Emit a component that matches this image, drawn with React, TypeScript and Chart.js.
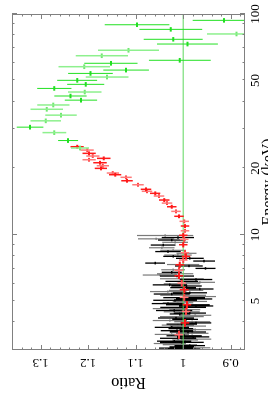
import React, { useEffect, useRef } from 'react';
import { Chart, registerables } from 'chart.js';

Chart.register(...registerables);

// ---- axes ----
const energyMin = 3;
const energyMax = 100;
const ratioMin = 0.87;
const ratioMax = 1.36;
const unityRatio = 1;
const energyTicks = [5, 10, 20, 50, 100];
const energyTickLabels = ['5', '10', '20', '50', '100'];
const energyMajorMarks = [10, 100];
const energyMinorMarks = [3, 4, 5, 6, 7, 8, 9, 20, 30, 40, 50, 60, 70, 80, 90];
const ratioTicks = [0.9, 1, 1.1, 1.2, 1.3];
const ratioTickLabels = ['0.9', '1', '1.1', '1.2', '1.3'];

// ---- black series ----
const blackEnergy = [9.70, 9.45, 8.97, 8.38, 7.97, 7.81, 7.59, 7.43, 7.21, 7.03, 6.75, 6.49, 6.26, 6.14, 5.92, 5.85, 5.75, 5.67, 5.45, 5.38, 5.18, 5.11, 5.04, 4.87, 4.81, 4.75, 4.68, 4.53, 4.41, 4.37, 4.19, 4.13, 3.98, 3.93, 3.80, 3.75, 3.67, 3.62, 3.48, 3.44, 3.39, 3.29, 3.25, 3.14, 3.10, 3.06, 3.03];
const blackEnergyErr = [0.13, 0.12, 0.12, 0.11, 0.10, 0.10, 0.10, 0.10, 0.09, 0.09, 0.09, 0.08, 0.08, 0.08, 0.08, 0.08, 0.07, 0.07, 0.07, 0.07, 0.07, 0.07, 0.07, 0.06, 0.06, 0.06, 0.06, 0.06, 0.06, 0.06, 0.05, 0.05, 0.05, 0.05, 0.05, 0.05, 0.05, 0.05, 0.05, 0.04, 0.04, 0.04, 0.04, 0.04, 0.04, 0.04, 0.04];
const blackRatio = [1.011, 1.024, 1.042, 1.032, 1.021, 0.986, 0.956, 1.059, 0.988, 0.953, 1.024, 1.013, 0.973, 1.003, 1.028, 0.993, 1.000, 0.965, 0.986, 1.024, 0.998, 0.977, 1.017, 1.032, 0.990, 0.973, 1.000, 1.019, 0.986, 1.007, 1.015, 0.996, 0.973, 1.003, 1.024, 1.005, 1.013, 0.990, 0.998, 0.979, 1.011, 1.019, 1.003, 0.986, 1.003, 1.015, 0.998];
const blackRatioErr = [0.034, 0.029, 0.026, 0.027, 0.021, 0.029, 0.023, 0.021, 0.029, 0.021, 0.021, 0.036, 0.034, 0.034, 0.036, 0.032, 0.027, 0.029, 0.036, 0.038, 0.044, 0.038, 0.046, 0.034, 0.046, 0.036, 0.048, 0.038, 0.034, 0.021, 0.038, 0.027, 0.032, 0.032, 0.036, 0.026, 0.034, 0.038, 0.037, 0.034, 0.038, 0.036, 0.046, 0.032, 0.026, 0.036, 0.034];

// ---- grey series ----
const greyEnergy = [9.91, 9.57, 9.23, 8.72, 8.49, 8.23, 8.08, 7.32, 6.93, 6.65, 6.56, 6.31, 6.08, 5.99, 5.59, 5.52, 5.31, 5.24, 4.98, 4.91, 4.62, 4.57, 4.47, 4.31, 4.25, 4.08, 4.03, 3.89, 3.85, 3.71, 3.57, 3.53, 3.36, 3.33, 3.21, 3.17, 3.07];
const greyEnergyErr = [0.13, 0.12, 0.12, 0.11, 0.11, 0.10, 0.10, 0.09, 0.09, 0.08, 0.08, 0.08, 0.08, 0.08, 0.07, 0.07, 0.07, 0.07, 0.06, 0.06, 0.06, 0.06, 0.06, 0.05, 0.05, 0.05, 0.05, 0.05, 0.05, 0.05, 0.05, 0.05, 0.04, 0.04, 0.04, 0.04, 0.04];
const greyRatio = [1.038, 1.057, 1.017, 1.045, 1.021, 0.993, 1.011, 1.000, 1.021, 1.017, 1.049, 1.003, 0.965, 1.003, 0.994, 1.032, 1.000, 0.965, 0.986, 1.011, 1.028, 0.996, 1.003, 0.975, 1.003, 1.028, 0.981, 1.011, 0.990, 0.975, 0.981, 1.024, 0.973, 0.996, 1.028, 1.007, 0.975];
const greyRatioErr = [0.059, 0.038, 0.027, 0.027, 0.027, 0.021, 0.029, 0.034, 0.025, 0.038, 0.036, 0.046, 0.032, 0.038, 0.036, 0.038, 0.048, 0.034, 0.036, 0.032, 0.036, 0.032, 0.038, 0.034, 0.046, 0.036, 0.038, 0.034, 0.038, 0.034, 0.034, 0.036, 0.032, 0.027, 0.034, 0.036, 0.032];

// ---- red series ----
const redEnergy = [25.03, 23.36, 22.17, 21.18, 19.97, 18.69, 17.55, 16.05, 15.39, 14.35, 13.38, 12.11, 10.94, 9.93, 9.00, 7.97, 7.30, 6.51, 5.63, 4.81, 3.98];
const redEnergyErr = [0.50, 0.47, 0.44, 0.42, 0.40, 0.37, 0.35, 0.32, 0.31, 0.29, 0.27, 0.24, 0.22, 0.26, 0.25, 0.25, 0.24, 0.22, 0.20, 0.19, 0.16];
const redRatio = [1.223, 1.198, 1.167, 1.175, 1.173, 1.143, 1.118, 1.078, 1.059, 1.040, 1.024, 1.009, 0.996, 1.000, 1.000, 0.994, 1.007, 1.009, 0.998, 0.992, 0.996];
const redRatioErr = [0.014, 0.014, 0.014, 0.014, 0.013, 0.013, 0.012, 0.011, 0.011, 0.011, 0.010, 0.010, 0.009, 0.009, 0.009, 0.009, 0.009, 0.009, 0.009, 0.009, 0.009];

// ---- pink series ----
const pinkEnergy = [24.17, 22.71, 21.85, 20.52, 19.02, 18.19, 16.83, 15.72, 14.96, 13.90, 12.75, 11.49, 10.41, 9.52, 8.28, 7.67, 6.89, 6.03, 5.20, 4.49, 3.52];
const pinkEnergyErr = [0.48, 0.45, 0.44, 0.41, 0.38, 0.36, 0.34, 0.31, 0.30, 0.28, 0.26, 0.23, 0.21, 0.25, 0.23, 0.23, 0.23, 0.21, 0.19, 0.17, 0.15];
const pinkRatio = [1.202, 1.190, 1.198, 1.169, 1.148, 1.120, 1.095, 1.076, 1.051, 1.034, 1.015, 0.998, 0.996, 0.998, 0.996, 1.000, 1.009, 1.003, 0.998, 0.994, 1.009];
const pinkRatioErr = [0.014, 0.014, 0.014, 0.013, 0.013, 0.012, 0.012, 0.011, 0.011, 0.011, 0.010, 0.010, 0.009, 0.009, 0.009, 0.009, 0.009, 0.009, 0.009, 0.009, 0.009];

// ---- green series ----
const greenEnergy = [93.6, 89.4, 85.2, 76.8, 73.1, 61.7, 59.8, 55.7, 53.8, 50.05, 48.0, 46.0, 42.5, 40.7, 30.7, 26.7];
const greenEnergyErr = [2.2, 2.1, 2.0, 1.8, 1.75, 1.5, 1.45, 1.35, 1.3, 1.2, 1.15, 1.1, 1.0, 1.0, 0.75, 0.65];
const greenRatio = [0.914, 1.097, 1.026, 1.021, 0.991, 1.007, 1.152, 1.120, 1.195, 1.223, 1.205, 1.271, 1.237, 1.215, 1.322, 1.242];
const greenRatioErr = [0.066, 0.068, 0.066, 0.062, 0.064, 0.065, 0.056, 0.048, 0.047, 0.042, 0.039, 0.036, 0.034, 0.034, 0.028, 0.021];

// ---- light green series ----
const lightGreenEnergy = [81.2, 68.5, 64.7, 57.7, 51.8, 44.3, 38.7, 37.0, 34.8, 32.8, 29.0, 24.7];
const lightGreenEnergyErr = [1.95, 1.65, 1.55, 1.4, 1.25, 1.05, 0.95, 0.9, 0.85, 0.8, 0.7, 0.6];
const lightGreenRatio = [0.888, 1.115, 1.171, 1.208, 1.160, 1.207, 1.273, 1.287, 1.257, 1.289, 1.271, 1.217];
const lightGreenRatioErr = [0.062, 0.064, 0.055, 0.054, 0.045, 0.035, 0.034, 0.034, 0.033, 0.032, 0.025, 0.019];

const SERIF = "'Liberation Serif', 'DejaVu Serif', serif";
const FRAME = '#808080';

type P = { x: number; y: number | null };

function ratioBars(E: number[], R: number[], dR: number[]): P[] {
  const out: P[] = [];
  for (let i = 0; i < E.length; i++) {
    out.push({ x: E[i], y: R[i] - dR[i] }, { x: E[i], y: R[i] + dR[i] }, { x: E[i], y: null });
  }
  return out;
}

function energyBars(E: number[], dE: number[], R: number[]): P[] {
  const out: P[] = [];
  for (let i = 0; i < E.length; i++) {
    out.push({ x: E[i] - dE[i], y: R[i] }, { x: E[i] + dE[i], y: R[i] }, { x: E[i], y: null });
  }
  return out;
}

function barSet(data: P[], color: string, width: number, order: number) {
  return {
    data,
    showLine: true,
    spanGaps: false,
    borderColor: color,
    backgroundColor: color,
    borderWidth: width,
    pointRadius: 0,
    pointHoverRadius: 0,
    tension: 0,
    order,
  };
}

const frameTicks = {
  id: 'frameTicks',
  afterDatasetsDraw(chart: any) {
    const { ctx, chartArea } = chart;
    const { left, right, top, bottom } = chartArea;
    const xs = chart.scales.x;
    const ys = chart.scales.y;
    ctx.save();
    ctx.strokeStyle = FRAME;
    ctx.lineWidth = 1;
    ctx.strokeRect(Math.round(left) + 0.5, Math.round(top) + 0.5, Math.round(right - left) - 1, Math.round(bottom - top) - 1);
    ctx.beginPath();
    const xMark = (v: number, len: number) => {
      const px = Math.round(xs.getPixelForValue(v)) + 0.5;
      ctx.moveTo(px, bottom);
      ctx.lineTo(px, bottom - len);
      ctx.moveTo(px, top);
      ctx.lineTo(px, top + len);
    };
    const yMark = (v: number, len: number) => {
      const py = Math.round(ys.getPixelForValue(v)) + 0.5;
      ctx.moveTo(left, py);
      ctx.lineTo(left + len, py);
      ctx.moveTo(right, py);
      ctx.lineTo(right - len, py);
    };
    energyMajorMarks.forEach((v) => xMark(v, 5));
    energyMinorMarks.forEach((v) => xMark(v, 2.5));
    for (let k = 44; k <= 68; k++) {
      const v = k / 50;
      if (k % 5 === 0) yMark(v, 5);
      else yMark(v, 2.5);
    }
    ctx.stroke();
    ctx.restore();
  },
};

export default function App() {
  const ref = useRef<HTMLCanvasElement | null>(null);

  useEffect(() => {
    document.body.style.margin = '0';
    document.body.style.overflow = 'hidden';
    const canvas = ref.current;
    if (!canvas) return;
    const unityLine: P[] = [
      { x: energyMin, y: unityRatio },
      { x: energyMax, y: unityRatio },
    ];
    const chart = new Chart(canvas, {
      type: 'scatter',
      data: {
        datasets: [
          barSet(ratioBars(greenEnergy, greenRatio, greenRatioErr), '#22e022', 1, 0),
          barSet(energyBars(greenEnergy, greenEnergyErr, greenRatio), '#22e022', 2, 0),
          barSet(ratioBars(lightGreenEnergy, lightGreenRatio, lightGreenRatioErr), '#8ef08e', 1.5, 0),
          barSet(energyBars(lightGreenEnergy, lightGreenEnergyErr, lightGreenRatio), '#6fe86f', 2, 0),
          barSet(ratioBars(redEnergy, redRatio, redRatioErr), '#ff1a1a', 1.5, 0),
          barSet(energyBars(redEnergy, redEnergyErr, redRatio), '#ff1a1a', 2, 0),
          barSet(ratioBars(pinkEnergy, pinkRatio, pinkRatioErr), '#ff7a7a', 1.5, 0),
          barSet(energyBars(pinkEnergy, pinkEnergyErr, pinkRatio), '#ff4040', 2, 0),
          barSet(unityLine, '#5ed85e', 1, 1),
          barSet(ratioBars(blackEnergy, blackRatio, blackRatioErr), '#000000', 1.3, 2),
          barSet(energyBars(blackEnergy, blackEnergyErr, blackRatio), '#000000', 1.5, 2),
          barSet(ratioBars(greyEnergy, greyRatio, greyRatioErr), '#7a7a7a', 1.2, 3),
          barSet(energyBars(greyEnergy, greyEnergyErr, greyRatio), '#7a7a7a', 1.2, 3),
        ] as any,
      },
      options: {
        responsive: false,
        animation: false,
        devicePixelRatio: 1,
        layout: { padding: { top: 12, right: 14, bottom: 0, left: 0 } },
        plugins: { legend: { display: false }, tooltip: { enabled: false } },
        events: [],
        scales: {
          x: {
            type: 'logarithmic',
            min: energyMin,
            max: energyMax,
            position: 'bottom',
            grid: { display: false, drawTicks: false },
            border: { display: false },
            afterBuildTicks: (s: any) => {
              s.ticks = energyTicks.map((v) => ({ value: v }));
            },
            afterFit: (s: any) => {
              s.height = 23;
            },
            ticks: {
              autoSkip: false,
              minRotation: 0,
              maxRotation: 0,
              padding: 3,
              color: '#000',
              font: { family: SERIF, size: 13 },
              callback: (_v: any, i: number) => energyTickLabels[i],
            },
            title: {
              display: true,
              text: 'Energy (keV)',
              color: '#000',
              font: { family: SERIF, size: 16 },
              padding: { top: 0, bottom: -10 },
            },
          },
          y: {
            type: 'linear',
            min: ratioMin,
            max: ratioMax,
            position: 'left',
            grid: { display: false, drawTicks: false },
            border: { display: false },
            afterBuildTicks: (s: any) => {
              s.ticks = ratioTicks.map((v) => ({ value: v }));
            },
            afterFit: (s: any) => {
              s.width = 52;
            },
            ticks: {
              autoSkip: false,
              minRotation: 90,
              maxRotation: 90,
              crossAlign: 'center',
              padding: 4,
              color: '#000',
              font: { family: SERIF, size: 13 },
              callback: (_v: any, i: number) => ratioTickLabels[i],
            },
            title: {
              display: true,
              text: 'Ratio',
              color: '#000',
              font: { family: SERIF, size: 16 },
              padding: { top: 10, bottom: 0 },
            },
          },
        },
      } as any,
      plugins: [frameTicks],
    });
    return () => chart.destroy();
  }, []);

  return (
    <div
      style={{
        position: 'fixed',
        left: 0,
        top: 0,
        width: 402,
        height: 268,
        transformOrigin: '0 0',
        transform: 'translateY(402px) rotate(-90deg)',
        background: '#fff',
      }}
    >
      <canvas ref={ref} width={402} height={268} style={{ display: 'block', width: 402, height: 268 }} />
    </div>
  );
}
